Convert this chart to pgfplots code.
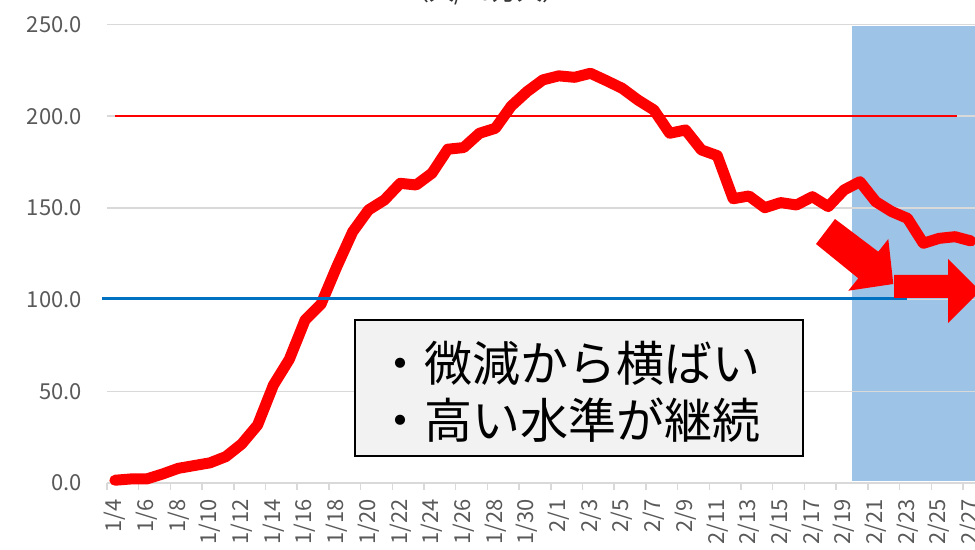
\documentclass[border=0pt]{standalone}
\usepackage{fontspec}
\setmainfont{Noto Sans CJK JP}
\usepackage{pgfplots}
\pgfplotsset{compat=1.18}
\definecolor{gridgray}{HTML}{D9D9D9}
\definecolor{ticklab}{HTML}{595959}
\definecolor{shadeblue}{HTML}{9DC3E6}
\definecolor{refblue}{HTML}{0070C0}
\definecolor{boxfill}{HTML}{F2F2F2}
\definecolor{purered}{HTML}{FF0000}
\newcommand{\xl}[1]{#1\kern16bp}
\begin{document}
\begin{tikzpicture}
\begin{axis}[
  name=ax, set layers,
  scale only axis, width=868bp, height=458.5bp,
  xmin=-0.5, xmax=54.26, ymin=0, ymax=250,
  clip=false,
  axis x line*=bottom, axis y line*=left,
  x axis line style={draw=gridgray, line width=1.5bp, -},
  y axis line style={draw=none},
  ytick={0,50,...,250},
  ymajorgrids, major grid style={draw=gridgray, line width=1.5bp},
  xtick={0,2,...,54},
  xticklabels={\xl{1/4},\xl{1/6},\xl{1/8},\xl{1/10},\xl{1/12},\xl{1/14},\xl{1/16},\xl{1/18},\xl{1/20},\xl{1/22},\xl{1/24},\xl{1/26},\xl{1/28},\xl{1/30},\xl{2/1},\xl{2/3},\xl{2/5},\xl{2/7},\xl{2/9},\xl{2/11},\xl{2/13},\xl{2/15},\xl{2/17},\xl{2/19},\xl{2/21},\xl{2/23},\xl{2/25},\xl{2/27}},
  major tick length=0pt,
  tick align=outside,
  tick style={draw=gridgray, line width=1.5bp},
  extra x ticks={-0.5,1.5,...,53.5},
  extra x tick labels={},
  extra x tick style={grid=none, major tick length=7bp},
  tick label style={font=\fontsize{22bp}{26bp}\selectfont, text=ticklab, inner sep=0pt},
  yticklabel style={xshift=-25bp, /pgf/number format/.cd, fixed, fixed zerofill, precision=1},
  xticklabel style={rotate=90, anchor=east},
  /pgf/number format/assume math mode=true,
]
\begin{pgfonlayer}{axis background}
\fill[shadeblue] (axis cs:46.5,1.3) rectangle (axis cs:56,249.3);
\end{pgfonlayer}
\addplot[purered, line width=2bp] coordinates {(0,200) (53.1,200)};
\addplot[purered, line width=11bp, line join=round, line cap=round] table {
x y
0 1.5
1 2.2
2 2.2
3 4.9
4 8.0
5 9.5
6 11.0
7 14.4
8 21.3
9 31.6
10 53.4
11 67.4
12 88.9
13 97.5
14 118
15 137
16 148.9
17 154.3
18 163.4
19 162.5
20 168.9
21 182
22 182.9
23 190.7
24 193.4
25 205.5
26 213.4
27 219.8
28 222
29 221.2
30 223.4
31 219.4
32 215.2
33 208.8
34 203.4
35 190.7
36 192.5
37 181.6
38 178.5
39 155
40 156.5
41 150.1
42 152.9
43 151.6
44 156.1
45 150.7
46 159.8
47 164.3
48 153.4
49 148
50 144.3
51 130.7
52 133.4
53 134.3
54 132
};
\addplot[refblue, line width=2.5bp] coordinates {(-0.82,100.5) (50,100.5)};
\end{axis}
\begin{scope}[shift={(ax.south west)}, x=1bp, y=1bp]
\node[anchor=base, font=\fontsize{25bp}{30bp}\selectfont, text=black!80, inner sep=0pt] at (379,482.5) {（人/10万人）};
\draw[fill=boxfill, draw=black, line width=1.5bp] (248,27) rectangle (696,163);
\node[anchor=base west, inner sep=0pt, font=\fontsize{48bp}{57bp}\selectfont] at (269,102) {・微減から横ばい};
\node[anchor=base west, inner sep=0pt, font=\fontsize{48bp}{57bp}\selectfont] at (269,45) {・高い水準が継続};
\fill[purered] (728,264) -- (771.3,231.3) -- (781.3,244) -- (786.3,199) -- (741.3,192.3) -- (751.3,204.7) -- (709,239) -- cycle;
\fill[purered] (787,208) -- (841,208) -- (841,224) -- (873,192) -- (841,160) -- (841,185) -- (787,185) -- cycle;
\end{scope}
\pgfresetboundingbox
\path[use as bounding box] ([shift={(-107bp,-67bp)}]ax.south west) rectangle ([shift={(0bp,24.5bp)}]ax.north east);
\end{tikzpicture}
\end{document}
